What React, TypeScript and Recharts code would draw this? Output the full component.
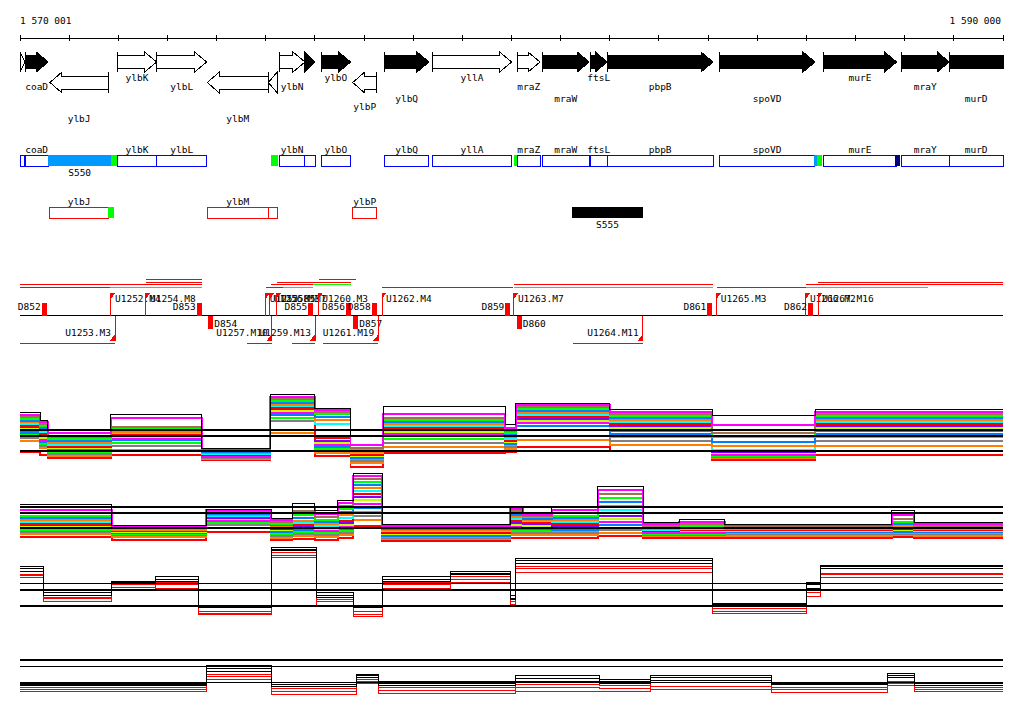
import React from "react";
import {
  ComposedChart,
  Line,
  ReferenceArea,
  ReferenceLine,
  Scatter,
  XAxis,
  YAxis,
} from "recharts";

// ---- genome window ----
const X_MIN = 1570001;
const X_MAX = 1590000;
const AXIS_TICKS = [
  1570001, 1571000, 1572000, 1573000, 1574000, 1575000, 1576000, 1577000,
  1578000, 1579000, 1580000, 1581000, 1582000, 1583000, 1584000, 1585000,
  1586000, 1587000, 1588000, 1589000, 1590000,
];

// ---- genes (strand 1 = forward, -1 = reverse) ----
const GENES = [
  { name: "", start: 1569700, end: 1570100, strand: 1, essential: false },
  { name: "coaD", start: 1570103, end: 1570577, strand: 1, essential: true },
  { name: "ylbJ", start: 1570611, end: 1571797, strand: -1, essential: false },
  { name: "ylbK", start: 1571981, end: 1572782, strand: 1, essential: false },
  { name: "ylbL", start: 1572782, end: 1573799, strand: 1, essential: false },
  { name: "ylbM", start: 1573812, end: 1575053, strand: -1, essential: false },
  { name: "", start: 1575053, end: 1575236, strand: -1, essential: false },
  { name: "ylbN", start: 1575276, end: 1575799, strand: 1, essential: false },
  { name: "", start: 1575799, end: 1576003, strand: 1, essential: true },
  { name: "ylbO", start: 1576125, end: 1576729, strand: 1, essential: true },
  { name: "ylbP", start: 1576770, end: 1577258, strand: -1, essential: false },
  { name: "ylbQ", start: 1577413, end: 1578322, strand: 1, essential: true },
  { name: "yllA", start: 1578389, end: 1580004, strand: 1, essential: false },
  { name: "mraZ", start: 1580119, end: 1580581, strand: 1, essential: false },
  { name: "mraW", start: 1580627, end: 1581583, strand: 1, essential: true },
  { name: "ftsL", start: 1581604, end: 1581950, strand: 1, essential: true },
  { name: "pbpB", start: 1581950, end: 1584100, strand: 1, essential: true },
  { name: "spoVD", start: 1584228, end: 1586175, strand: 1, essential: true },
  { name: "murE", start: 1586344, end: 1587837, strand: 1, essential: true },
  { name: "mraY", start: 1587925, end: 1588908, strand: 1, essential: true },
  { name: "murD", start: 1588908, end: 1590300, strand: 1, essential: true },
];

// extra features on the gene model rows
const SITES = [
  { name: "S550", start: 1570577, end: 1571852, strand: 1, kind: "site" },
  { name: "", start: 1571852, end: 1571980, strand: 1, kind: "start" },
  { name: "", start: 1575107, end: 1575244, strand: 1, kind: "start" },
  { name: "", start: 1580045, end: 1580113, strand: 1, kind: "start" },
  { name: "", start: 1586155, end: 1586216, strand: 1, kind: "site" },
  { name: "", start: 1586216, end: 1586324, strand: 1, kind: "start" },
  { name: "", start: 1587809, end: 1587911, strand: 1, kind: "dark" },
  { name: "", start: 1571797, end: 1571913, strand: -1, kind: "start" },
  { name: "S555", start: 1581225, end: 1582682, strand: -1, kind: "block" },
];

// upshifts (U) and downshifts (D)
const MARKERS = [
  { name: "D852", pos: 1570442, strand: 1, type: "D" },
  { name: "U1252.M4", pos: 1571852, strand: 1, type: "U" },
  { name: "U1253.M3", pos: 1571934, strand: -1, type: "U" },
  { name: "U1254.M8", pos: 1572564, strand: 1, type: "U" },
  { name: "D853", pos: 1573596, strand: 1, type: "D" },
  { name: "D854", pos: 1573832, strand: -1, type: "D" },
  { name: "U1255.M5", pos: 1575000, strand: 1, type: "U" },
  { name: "U1256.M3", pos: 1575087, strand: 1, type: "U" },
  { name: "U1257.M10", pos: 1575122, strand: -1, type: "U" },
  { name: "U1258.M7", pos: 1575223, strand: 1, type: "U" },
  { name: "D855", pos: 1575867, strand: 1, type: "D" },
  { name: "U1259.M13", pos: 1576003, strand: -1, type: "U" },
  { name: "U1260.M3", pos: 1576070, strand: 1, type: "U" },
  { name: "D856", pos: 1576633, strand: 1, type: "D" },
  { name: "D857", pos: 1576782, strand: -1, type: "D" },
  { name: "D858", pos: 1577156, strand: 1, type: "D" },
  { name: "U1261.M19", pos: 1577291, strand: -1, type: "U" },
  { name: "U1262.M4", pos: 1577366, strand: 1, type: "U" },
  { name: "D859", pos: 1579875, strand: 1, type: "D" },
  { name: "U1263.M7", pos: 1580049, strand: 1, type: "U" },
  { name: "D860", pos: 1580108, strand: -1, type: "D" },
  { name: "U1264.M11", pos: 1582672, strand: -1, type: "U" },
  { name: "D861", pos: 1583984, strand: 1, type: "D" },
  { name: "U1265.M3", pos: 1584177, strand: 1, type: "U" },
  { name: "U1266.M2", pos: 1585990, strand: 1, type: "U" },
  { name: "D862", pos: 1586031, strand: 1, type: "D" },
  { name: "U1267.M16", pos: 1586240, strand: 1, type: "U" },
];

// transcription units, track 0-3 above the line, 4 below
const TRANSCRIPTS = [
  { start: 1570001, end: 1573704, track: 2, kind: "red" },
  { start: 1570001, end: 1571832, track: 3, kind: "red" },
  { start: 1571832, end: 1573704, track: 3, kind: "green" },
  { start: 1572564, end: 1573704, track: 0, kind: "red" },
  { start: 1572564, end: 1573704, track: 1, kind: "red" },
  { start: 1575000, end: 1575962, track: 3, kind: "red" },
  { start: 1575352, end: 1575962, track: 3, kind: "green" },
  { start: 1575101, end: 1575962, track: 2, kind: "red" },
  { start: 1575962, end: 1576729, track: 2, kind: "green" },
  { start: 1575223, end: 1576729, track: 1, kind: "red" },
  { start: 1576084, end: 1576831, track: 0, kind: "red" },
  { start: 1577360, end: 1580041, track: 3, kind: "red" },
  { start: 1580051, end: 1584092, track: 2, kind: "red" },
  { start: 1580051, end: 1584092, track: 3, kind: "green" },
  { start: 1584181, end: 1585992, track: 3, kind: "red" },
  { start: 1585992, end: 1588474, track: 3, kind: "green" },
  { start: 1585992, end: 1590000, track: 2, kind: "red" },
  { start: 1586240, end: 1590000, track: 1, kind: "red" },
  { start: 1570001, end: 1571934, track: 4, kind: "red" },
  { start: 1574613, end: 1575122, track: 4, kind: "red" },
  { start: 1575529, end: 1576003, track: 4, kind: "red" },
  { start: 1576165, end: 1577290, track: 4, kind: "red" },
  { start: 1581252, end: 1582681, track: 4, kind: "red" },
];

// ---- expression panels: segment edges and per-segment levels of each profile ----
const P1_BREAKS = [
  1570001, 1570410, 1570570, 1571850, 1573700, 1575090, 1576000, 1576720,
  1577390, 1579870, 1580090, 1582000, 1584080, 1586180, 1590000,
];
const P1_LEVELS = [
  [12.7, 12, 11.3, 10.7, 10, 9.7, 9, 8.3, 8, 7.3, 6.7, 6, 5.3, 4.3, 3.3, -0.3],
  [10.3, 9.7, 9, 8.3, 7.7, 7, 6.3, 5.7, 5, 4.3, 3.7, 3, 2.3, 1.7, 1, -1.3],
  [7, 6, 4.7, 4, 3.3, 2.7, 2, 1.7, 1.3, 1, 0.7, 0, -0.3, -1, -1.7, -2.3],
  [12.3, 11, 8, 7.7, 7, 6.3, 6, 5.3, 5, 4.7, 4.3, 3.7, 2.7, 1.7, 0.3, -1.3],
  [1, 0.7, 0.3, 0, -0.3, -0.7, -1, -1, -1.3, -1.3, -1.7, -2, -2, -2.3, -2.7, -3],
  [18.7, 18, 17.3, 16.7, 16, 15.3, 15, 14.3, 14, 13.3, 12.7, 12, 11, 10, 6, 5],
  [14.3, 13.7, 13, 12.3, 11.3, 10.3, 9, 4.3, 3.3, 2.7, 2, 1.3, 0.7, 0, -0.7, -1.7],
  [4.7, 2, 1, 0.3, 0, -0.3, -0.7, -1, -1.3, -1.7, -2, -2.3, -2.7, -3.3, -4, -5.3],
  [14.7, 12.3, 11, 10.3, 9.7, 9, 8.3, 7.7, 7, 6.3, 5.7, 5, 4, 2.7, 1.3, -0.7],
  [8.7, 7.7, 6.7, 6, 5.3, 4.7, 4, 3.7, 3.3, 3, 2.7, 2.3, 2, 1.3, 0.7, -0.3],
  [16, 15.3, 14.7, 14, 13.3, 12.7, 12, 11.3, 10.7, 10, 9.3, 8.3, 7, 5, 3.7, 1.3],
  [13.7, 13, 12.3, 11.7, 11, 10.3, 9.7, 9, 8.3, 7.7, 6.7, 5.7, 4.7, 3.3, 2, 0],
  [11.7, 8.7, 6, 4.7, 3, 1.7, 0.3, 0, -0.3, -0.7, -1, -1.3, -1.7, -2, -2.3, -3],
  [13.7, 13, 12.3, 11.7, 11, 10.3, 9.7, 9, 8.3, 7.7, 6.7, 5.7, 4.7, 3.3, 1.7, -1.3],
];

const P2_BREAKS = [
  1570001, 1571870, 1573790, 1575110, 1575540, 1576000, 1576470, 1576780,
  1577370, 1579970, 1580230, 1580820, 1581760, 1582680, 1583410, 1584340,
  1587740, 1588190, 1590000,
];
const P2_LEVELS = [
  [8, 6, 5, 4, 3.3, 2.7, 2, 1.3, 1, 0.7, 0.3, 0, -0.7, -1.3, -2, -3],
  [0.7, 0.3, 0, -0.3, -0.3, -0.7, -0.7, -1, -1, -1.3, -1.3, -1.7, -2, -2.3, -3, -4],
  [6.3, 6, 5.3, 5, 4.7, 4.3, 4, 3.7, 3.3, 3, 2.7, 2.3, 1.7, 1, 0, -1.3],
  [3.3, 2.7, 2, 1.3, 1, 0.7, 0.3, 0, -0.3, -0.7, -1, -1.3, -2, -2.7, -3.3, -4],
  [8.3, 7, 5.7, 4.3, 3.3, 2.3, 1.7, 1, 0.3, 0, -0.3, -0.7, -1.3, -2, -2.7, -3.7],
  [6, 4.7, 3.7, 2.7, 2, 1.3, 0.7, 0.3, 0, -0.3, -0.7, -1, -1.7, -2.3, -3, -4],
  [9.3, 8.3, 7.3, 6.3, 5.3, 4.3, 3.3, 2.3, 1.7, 1, 0.3, -0.3, -1, -1.7, -2.3, -3.3],
  [18.3, 17.3, 16.3, 15.3, 14.3, 13.3, 12.3, 11.3, 10.3, 9.3, 8, 6.7, 5.3, 4, 2.7, 0.7],
  [1.3, 0.7, 0.3, 0, -0.3, -0.7, -1, -1.3, -1.7, -2, -2.3, -2.7, -3, -3.3, -3.7, -4.3],
  [7, 6.3, 5.7, 5, 4.3, 3.7, 3, 2.3, 1.7, 1, 0.3, -0.3, -1, -1.7, -2.3, -3.3],
  [5, 4.3, 4, 3.7, 3, 2.7, 2.3, 1.7, 1.3, 0.7, 0.3, -0.3, -1, -1.7, -2.3, -3.3],
  [7.3, 6, 5, 4, 3.3, 2.7, 2, 1.3, 0.7, 0.3, 0, -0.7, -1, -1.7, -2.3, -3.3],
  [13.7, 12.7, 11.3, 10, 8.7, 7.3, 6, 5, 4, 3, 2, 1, 0, -0.7, -1.7, -2.7],
  [2, 1.3, 0.7, 0.3, 0, -0.3, -0.7, -0.7, -1, -1, -1.3, -1.7, -2, -2.3, -2.7, -3.3],
  [3, 2, 1.3, 0.7, 0.3, 0, -0.3, -0.7, -0.7, -1, -1.3, -1.7, -2, -2.3, -2.7, -3.3],
  [1.3, 1, 0.7, 0.3, 0, -0.3, -0.3, -0.7, -0.7, -1, -1, -1.3, -1.7, -2, -2.7, -3.3],
  [6, 4.3, 3, 2, 1.3, 0.7, 0.3, 0, -0.3, -0.7, -1, -1.3, -1.7, -2, -2.3, -3],
  [2, 1.3, 0.7, 0.3, 0, -0.3, -0.3, -0.7, -0.7, -1, -1, -1.3, -1.7, -2, -2.7, -3.3],
];

const P3_BREAKS = [
  1570001, 1570470, 1571870, 1572750, 1573640, 1575110, 1576040, 1576780,
  1577370, 1578750, 1579970, 1580090, 1584080, 1586010, 1586280, 1590000,
];
const P3_LEVELS = [
  [12.2, 11.6, 10.9, 10, 9.4, 8.8],
  [4.7, 4.1, 3.4, 2.8, 2.2, 1.3],
  [7.8, 7.5, 7.2, 6.6, 5.9, 5],
  [9.1, 8.4, 7.8, 7.2, 6.6, 5.6],
  [0, -0.3, -0.6, -1.6, -2.2, -2.8],
  [18.4, 17.8, 17.5, 16.6, 15.9, 15.3],
  [4.1, 3.4, 2.8, 1.9, 1.3, 0.3],
  [0, -0.3, -0.6, -1.6, -2.5, -3.4],
  [9.1, 8.4, 7.8, 7.2, 6.6, 5.6],
  [10.9, 10.3, 9.7, 9.1, 8.4, 7.5],
  [3.4, 2.5, 1.9, 1.3, 0.6, -0.3],
  [14.7, 14.1, 13.4, 12.2, 11.6, 10.6],
  [0.9, 0.6, 0.3, -0.9, -1.6, -2.2],
  [7.5, 6.6, 5.6, 5, 4.1, 3.1],
  [12.8, 12.2, 11.6, 10.3, 9.7, 8.8],
];

const P4_BREAKS = [
  1570001, 1573790, 1575110, 1576840, 1577300, 1580090, 1581800, 1582820,
  1585280, 1587660, 1588190, 1590000,
];
const P4_LEVELS = [
  [-0.3, -0.6, -0.9, -1.6, -2.2, -2.8],
  [5.3, 4.4, 3.4, 2.5, 1.9, 0.9],
  [0, -0.6, -1.3, -1.9, -2.8, -3.8],
  [2.5, 2.2, 1.6, 0.9, 0.3, -0.3],
  [0.3, -0.3, -0.9, -1.6, -2.5, -3.4],
  [2.2, 1.3, 0.3, -0.6, -1.6, -2.8],
  [0.9, 0.3, -0.3, -0.9, -1.9, -2.8],
  [2.2, 1.6, 0.6, 0, -1.3, -2.2],
  [0, -0.3, -0.6, -1.6, -2.2, -3.1],
  [2.8, 2.2, 1.6, 0.3, -0.3, -0.9],
  [0, -0.3, -0.9, -1.6, -2.2, -2.8],
];

const REF_LEVELS = [0, 5, 7];

// ---- layout & style ----
const FONT = "'DejaVu Sans Mono', 'Liberation Mono', monospace";
const FS = 9.5;
const MARGIN = { top: 0, right: 21, bottom: 0, left: 20 };
const ANNOT_H = 350;
const AXIS_Y = 38;
const FWD_ARROW = [52, 72];
const REV_ARROW = [72, 93];
const GENE_LABEL_Y = [77, 86, 98, 106, 118];
const GENE_LABEL_ROW: Record<string, number> = {
  coaD: 1, ylbJ: 4, ylbK: 0, ylbL: 1, ylbM: 4, ylbN: 1, ylbO: 0, ylbP: 3,
  ylbQ: 2, yllA: 0, mraZ: 1, mraW: 2, ftsL: 0, pbpB: 1, spoVD: 2, murE: 0,
  mraY: 1, murD: 2,
};
const FWD_BOX = [155, 166];
const REV_BOX = [207, 218];
const FWD_BOX_LABEL = 149.5;
const REV_BOX_LABEL = 201;
const FWD_SITE_LABEL = 172;
const REV_SITE_LABEL = 224;
const MID_Y = 315.5;
const TRACK_Y = [279.5, 282, 284.5, 287, 343];
const SITE_COLORS: Record<string, string> = {
  site: "#0099ff",
  start: "#00ff00",
  dark: "#000080",
  block: "#000000",
};
const TX_COLORS: Record<string, string> = { red: "#ff0000", green: "#00ff00" };
const BAND_COLORS = [
  "#000000", "#ff00ff", "#a07050", "#00ff00", "#0080ff", "#ff8000",
  "#00ffff", "#ff0000", "#8000ff", "#c0ff00", "#ff00ff", "#0080ff",
  "#00ff00", "#808080", "#ff8000", "#ff0000",
];
const PAIR_COLORS = ["#000000", "#000000", "#000000", "#ff0000", "#ff0000", "#ff0000"];

const PANELS = [
  { top: 391, height: 78, domain: [-6, 20], breaks: P1_BREAKS, levels: P1_LEVELS, colors: BAND_COLORS, width: 1.5 },
  { top: 468, height: 78, domain: [-6, 20], breaks: P2_BREAKS, levels: P2_LEVELS, colors: BAND_COLORS, width: 1.5 },
  { top: 542, height: 80, domain: [-5, 20], breaks: P3_BREAKS, levels: P3_LEVELS, colors: PAIR_COLORS, width: 1 },
  { top: 657, height: 48, domain: [-7, 8], breaks: P4_BREAKS, levels: P4_LEVELS, colors: PAIR_COLORS, width: 1 },
];

const fmt = (n: number) => String(n).replace(/\B(?=(\d{3})+(?!\d))/g, " ");

const textShape = (p: any) => {
  const d = p.payload;
  return (
    <text
      x={p.cx + (d.dx || 0)}
      y={p.cy}
      textAnchor={d.anchor || "middle"}
      dominantBaseline="central"
      fontFamily={FONT}
      fontSize={FS}
      fill="#000"
    >
      {d.text}
    </text>
  );
};

// arrow drawn inside the rectangle Recharts computes for the gene;
// `cut` = the gene runs past the window edge, so that end has no head
const arrowShape = (strand: number, filled: boolean, cut: boolean) => (p: any) => {
  const { x, y, width: w, height: h } = p;
  const hl = cut ? 0 : Math.min(12, w);
  const inset = (h - 13) / 2;
  const top = y + inset;
  const bot = y + h - inset;
  const mid = y + h / 2;
  const pts = cut
    ? [[x, top], [x + w, top], [x + w, bot], [x, bot]]
    : strand > 0
      ? [[x, top], [x + w - hl, top], [x + w - hl, y], [x + w, mid], [x + w - hl, y + h], [x + w - hl, bot], [x, bot]]
      : [[x + w, top], [x + hl, top], [x + hl, y], [x, mid], [x + hl, y + h], [x + hl, bot], [x + w, bot]];
  const sx = strand > 0 ? x : x + w;
  return (
    <g shapeRendering="crispEdges">
      <polygon
        points={pts.map((q) => q.join(",")).join(" ")}
        fill={filled ? "#000" : "#fff"}
        stroke="#000"
        strokeWidth={1}
      />
      <line x1={sx} y1={y} x2={sx} y2={y + h} stroke="#000" strokeWidth={1} />
    </g>
  );
};

const markerShape = (p: any) => {
  const { cx, cy } = p;
  const m = p.payload;
  const up = m.strand > 0;
  const txt = (x: number, y: number, anchor: string) => (
    <text x={x} y={y} textAnchor={anchor} dominantBaseline="central" fontFamily={FONT} fontSize={FS} fill="#000">
      {m.name}
    </text>
  );
  if (m.type === "U") {
    const tip = up ? cy - 23 : cy + 25;
    const tri = up
      ? `${cx},${tip} ${cx + 5},${tip} ${cx},${tip + 6}`
      : `${cx},${tip} ${cx - 5},${tip} ${cx},${tip - 6}`;
    return (
      <g>
        <line x1={cx} y1={cy} x2={cx} y2={tip} stroke="#ff0000" strokeWidth={1} shapeRendering="crispEdges" />
        <polygon points={tri} fill="#ff0000" shapeRendering="crispEdges" />
        {up ? txt(cx + 4, cy - 17, "start") : txt(cx - 4, cy + 17, "end")}
      </g>
    );
  }
  return (
    <g>
      <rect x={cx} y={up ? cy - 13 : cy} width={5} height={13} fill="#ff0000" shapeRendering="crispEdges" />
      {up ? txt(cx - 1, cy - 9.5, "end") : txt(cx + 6, cy + 8, "start")}
    </g>
  );
};

function buildSteps(breaks: number[], levels: number[][]) {
  const rows: any[] = [];
  levels.forEach((seg, i) => {
    const a: any = { x: breaks[i] };
    const b: any = { x: breaks[i + 1] };
    seg.forEach((v, k) => {
      a[`l${k}`] = v;
      b[`l${k}`] = v;
    });
    rows.push(a, b);
  });
  return rows;
}

function Annotation() {
  const labels: any[] = [
    { x: AXIS_TICKS[0], y: 20, text: fmt(AXIS_TICKS[0]), anchor: "start" },
    { x: AXIS_TICKS[AXIS_TICKS.length - 1], y: 20, text: fmt(AXIS_TICKS[AXIS_TICKS.length - 1]), anchor: "end", dx: -2 },
  ];
  GENES.forEach((g) => {
    if (!g.name) return;
    const mid = (g.start + Math.min(g.end, X_MAX)) / 2;
    labels.push({ x: mid, y: GENE_LABEL_Y[GENE_LABEL_ROW[g.name]], text: g.name });
    labels.push({ x: mid, y: g.strand > 0 ? FWD_BOX_LABEL : REV_BOX_LABEL, text: g.name });
  });
  SITES.forEach((s) => {
    if (!s.name) return;
    labels.push({ x: (s.start + s.end) / 2, y: s.strand > 0 ? FWD_SITE_LABEL : REV_SITE_LABEL, text: s.name });
  });
  const markers = MARKERS.map((m) => ({ ...m, x: m.pos, y: MID_Y }));

  return (
    <ComposedChart width={1024} height={ANNOT_H} margin={MARGIN}>
      <XAxis type="number" dataKey="x" domain={[X_MIN, X_MAX]} hide />
      <YAxis type="number" dataKey="y" domain={[0, ANNOT_H]} reversed hide />

      <ReferenceLine
        segment={[{ x: X_MIN, y: AXIS_Y }, { x: X_MAX, y: AXIS_Y }]}
        stroke="#000"
        strokeWidth={1}
        shapeRendering="crispEdges"
      />
      {AXIS_TICKS.map((t) => (
        <ReferenceLine
          key={`t${t}`}
          segment={[{ x: t, y: AXIS_Y - 3 }, { x: t, y: AXIS_Y + 3 }]}
          stroke="#000"
          strokeWidth={1}
          shapeRendering="crispEdges"
        />
      ))}

      {GENES.map((g, i) => {
        const cutRight = g.end > X_MAX;
        return (
          <ReferenceArea
            key={`a${i}`}
            x1={Math.max(g.start, X_MIN)}
            x2={Math.min(g.end, X_MAX)}
            y1={g.strand > 0 ? FWD_ARROW[0] : REV_ARROW[0]}
            y2={g.strand > 0 ? FWD_ARROW[1] : REV_ARROW[1]}
            ifOverflow="visible"
            shape={arrowShape(g.strand, g.essential, cutRight)}
          />
        );
      })}

      {GENES.map((g, i) => (
        <ReferenceArea
          key={`b${i}`}
          x1={Math.max(g.start, X_MIN)}
          x2={Math.min(g.end, X_MAX)}
          y1={g.strand > 0 ? FWD_BOX[0] : REV_BOX[0]}
          y2={g.strand > 0 ? FWD_BOX[1] : REV_BOX[1]}
          fill="#fff"
          fillOpacity={1}
          stroke={g.strand > 0 ? "#0000ff" : "#ff0000"}
          strokeWidth={1}
          ifOverflow="visible"
          shapeRendering="crispEdges"
        />
      ))}
      {SITES.map((s, i) => (
        <ReferenceArea
          key={`s${i}`}
          x1={s.start}
          x2={s.end}
          y1={s.strand > 0 ? FWD_BOX[0] : REV_BOX[0]}
          y2={s.strand > 0 ? FWD_BOX[1] : REV_BOX[1]}
          fill={SITE_COLORS[s.kind]}
          fillOpacity={1}
          ifOverflow="visible"
          shapeRendering="crispEdges"
        />
      ))}

      {TRANSCRIPTS.map((t, i) => (
        <ReferenceLine
          key={`tx${i}`}
          segment={[{ x: t.start, y: TRACK_Y[t.track] }, { x: t.end, y: TRACK_Y[t.track] }]}
          stroke={TX_COLORS[t.kind]}
          strokeWidth={1}
          shapeRendering="crispEdges"
        />
      ))}
      <ReferenceLine
        segment={[{ x: X_MIN, y: MID_Y }, { x: X_MAX, y: MID_Y }]}
        stroke="#000"
        strokeWidth={1}
        shapeRendering="crispEdges"
      />

      <Scatter data={markers} dataKey="y" shape={markerShape} isAnimationActive={false} />
      <Scatter data={labels} dataKey="y" shape={textShape} isAnimationActive={false} />
    </ComposedChart>
  );
}

function TracePanel({ height, domain, breaks, levels, colors, width }: any) {
  const rows = buildSteps(breaks, levels);
  const order = colors.map((_: string, i: number) => i).reverse();
  return (
    <ComposedChart width={1024} height={height} data={rows} margin={MARGIN}>
      <XAxis type="number" dataKey="x" domain={[X_MIN, X_MAX]} hide allowDataOverflow />
      <YAxis type="number" domain={domain} hide allowDataOverflow />
      {order.map((i: number) => (
        <Line
          key={`l${i}`}
          dataKey={`l${i}`}
          type="linear"
          stroke={colors[i]}
          strokeWidth={i === 0 ? 1 : width}
          dot={false}
          activeDot={false}
          isAnimationActive={false}
          shapeRendering="crispEdges"
        />
      ))}
      {REF_LEVELS.map((v) => (
        <ReferenceLine key={`r${v}`} y={v} stroke="#000" strokeWidth={1.5} shapeRendering="crispEdges" />
      ))}
    </ComposedChart>
  );
}

export default function App() {
  return (
    <div
      style={{
        position: "absolute",
        left: 0,
        top: 0,
        width: 1024,
        height: 714,
        background: "#fff",
        overflow: "hidden",
      }}
    >
      <div style={{ position: "absolute", left: 0, top: 0 }}>
        <Annotation />
      </div>
      {PANELS.map((p, i) => (
        <div key={i} style={{ position: "absolute", left: 0, top: p.top }}>
          <TracePanel {...p} />
        </div>
      ))}
    </div>
  );
}
